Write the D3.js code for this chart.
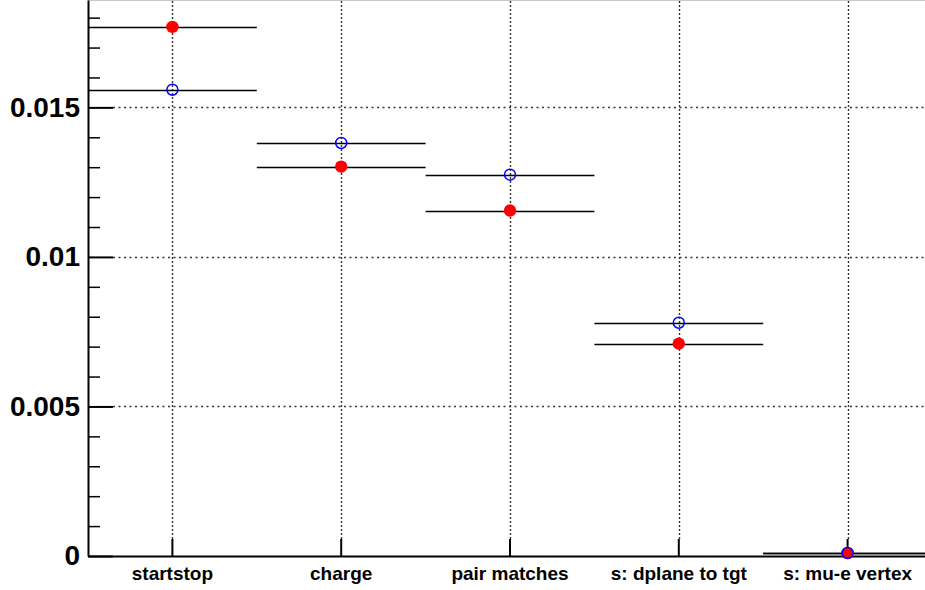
<!DOCTYPE html>
<html>
<head>
<meta charset="utf-8">
<script src="https://cdn.jsdelivr.net/npm/d3@7"></script>
<style>
  html, body { margin: 0; padding: 0; background: #fff; }
  svg { display: block; }
  .lbl text { font-family: "Liberation Sans", Arial, Helvetica, sans-serif; font-weight: bold; fill: #000; }
</style>
</head>
<body>
<svg id="chart" width="925" height="590"></svg>
<script>
// Selection steps along the x axis
const categories = ["startstop", "charge", "pair matches", "s: dplane to tgt", "s: mu-e vertex"];
// Filled red markers
const redValues  = [0.01769, 0.01302, 0.01155, 0.00710, 0.00010];
// Open blue markers
const blueValues = [0.01559, 0.01381, 0.01275, 0.00780, 0.00010];
// Labelled y ticks
const yMajorTicks = [0, 0.005, 0.01, 0.015];
const yMinorTicks = [0.001, 0.002, 0.003, 0.004, 0.006, 0.007, 0.008, 0.009,
                     0.011, 0.012, 0.013, 0.014, 0.016, 0.017, 0.018];

const svg = d3.select("#chart");
const W = 925, H = 590;
const plotLeft = 88, plotBottom = 556, plotTop = 0, plotRight = 932;

const x = d3.scaleBand().domain(categories).range([plotLeft, plotRight]).padding(0);
const y = d3.scaleLinear().domain([0, 0.01859]).range([plotBottom, plotTop]);

// top frame
svg.append("line")
  .attr("x1", plotLeft).attr("x2", W).attr("y1", 0.5).attr("y2", 0.5)
  .attr("stroke", "#c8c8c8").attr("stroke-width", 1);

// grid: horizontal at labelled ticks, vertical at bin centres
const grid = svg.append("g");
grid.selectAll("line.h").data(yMajorTicks.filter(d => d > 0)).join("line")
  .attr("class", "h")
  .attr("x1", plotLeft + 25).attr("x2", W)
  .attr("y1", d => Math.round(y(d)) + 0.5).attr("y2", d => Math.round(y(d)) + 0.5)
  .attr("stroke", "#333").attr("stroke-width", 1.4)
  .attr("stroke-dasharray", "2,3.5");
grid.selectAll("line.v").data(categories).join("line")
  .attr("class", "v")
  .attr("x1", d => Math.round(x(d) + x.bandwidth() / 2) + 0.5)
  .attr("x2", d => Math.round(x(d) + x.bandwidth() / 2) + 0.5)
  .attr("y1", plotBottom - 17).attr("y2", plotTop)
  .attr("stroke", "#333").attr("stroke-width", 1.4)
  .attr("stroke-dasharray", "2,2");

// y axis: minor ticks
svg.append("g")
  .attr("transform", `translate(${plotLeft},0)`)
  .call(d3.axisLeft(y).tickValues(yMinorTicks).tickSizeInner(-12).tickSizeOuter(0).tickFormat(""))
  .call(g => g.select(".domain").remove())
  .call(g => g.selectAll(".tick line").attr("stroke", "#000").attr("stroke-width", 1.5));

// y axis: major ticks with labels
svg.append("g")
  .attr("class", "lbl")
  .attr("transform", `translate(${plotLeft},0)`)
  .call(d3.axisLeft(y).tickValues(yMajorTicks).tickSizeInner(-25).tickSizeOuter(0)
        .tickPadding(8).tickFormat(d => d === 0 ? "0" : String(+d.toFixed(3))))
  .call(g => g.select(".domain").attr("stroke", "#000").attr("stroke-width", 2))
  .call(g => g.selectAll(".tick line").attr("stroke", "#000").attr("stroke-width", 2))
  .call(g => g.selectAll(".tick text").style("font-size", "28px"));

// x axis
svg.append("g")
  .attr("class", "lbl")
  .attr("transform", `translate(0,${plotBottom})`)
  .call(d3.axisBottom(x).tickSizeInner(-17).tickSizeOuter(0).tickPadding(11))
  .call(g => g.select(".domain").attr("stroke", "#000").attr("stroke-width", 2))
  .call(g => g.selectAll(".tick line").attr("stroke", "#000").attr("stroke-width", 2))
  .call(g => g.selectAll(".tick text").style("font-size", "19px"));

// bin-width error bars
const bars = svg.append("g");
function drawBars(values) {
  bars.selectAll(null).data(categories.map((c, i) => ({ c, v: values[i] }))).join("line")
    .attr("x1", d => x(d.c)).attr("x2", d => x(d.c) + x.bandwidth())
    .attr("y1", d => Math.round(y(d.v)) + 0.5).attr("y2", d => Math.round(y(d.v)) + 0.5)
    .attr("stroke", "#000").attr("stroke-width", 1.3);
}
drawBars(redValues);
drawBars(blueValues);

// markers
const cx = c => x(c) + x.bandwidth() / 2;
svg.append("g").selectAll("circle").data(categories.map((c, i) => ({ c, v: redValues[i] }))).join("circle")
  .attr("cx", d => cx(d.c)).attr("cy", d => y(d.v)).attr("r", 6.2)
  .attr("fill", "#ff0000");
svg.append("g").selectAll("circle").data(categories.map((c, i) => ({ c, v: blueValues[i] }))).join("circle")
  .attr("cx", d => cx(d.c)).attr("cy", d => y(d.v)).attr("r", 5.5)
  .attr("fill", "none").attr("stroke", "#0000ff").attr("stroke-width", 1.5);
</script>
</body>
</html>
